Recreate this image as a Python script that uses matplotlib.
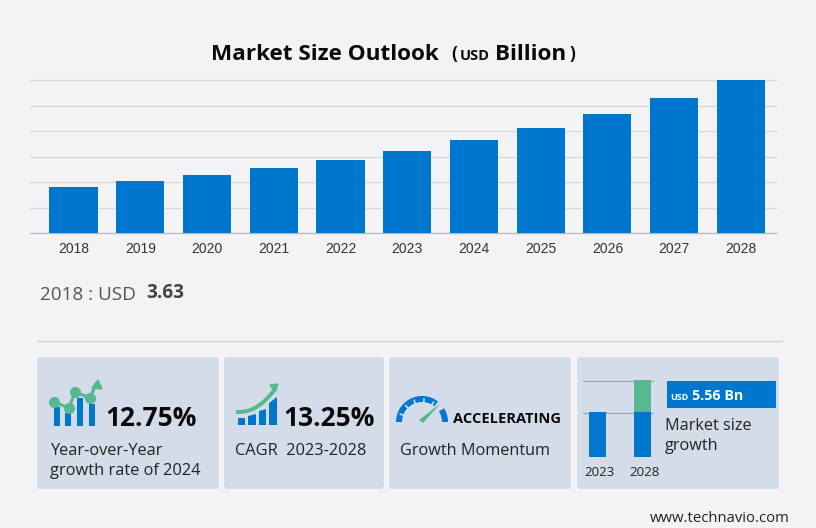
import numpy as np
import matplotlib
matplotlib.use("Agg")
import matplotlib.pyplot as plt
from matplotlib.patches import FancyBboxPatch, Rectangle, Polygon, Wedge

# Values
years = ['2018', '2019', '2020', '2021', '2022', '2023', '2024', '2025', '2026', '2027', '2028']
market_size = [3.63, 4.06, 4.53, 5.08, 5.70, 6.40, 7.26, 8.20, 9.29, 10.54, 11.95]
mini_years = ['2023', '2028']
mini_base = [44, 44]
mini_growth = [0, 32]

BG = '#f3f3f6'
CARD = '#d3dce8'
BLUE = '#0077cf'
GREEN = '#55b88f'
SANS = 'Open Sans'
W, H = 816, 528


def px_axes(x0, y0, x1, y1):
    # axes placed by pixel box, y counted from the top of the image
    return fig.add_axes([x0 / W, 1 - y1 / H, (x1 - x0) / W, (y1 - y0) / H])


fig = plt.figure(figsize=(8.16, 5.28), dpi=100, facecolor=BG)

# overlay in pixel coordinates for cards, icons and text
bg = fig.add_axes([0, 0, 1, 1], zorder=0)
bg.set_xlim(0, W)
bg.set_ylim(H, 0)
bg.axis('off')


def label(x, y, s, size=12, weight='normal', color='#222222', family=SANS, **kw):
    bg.text(x, y, s, fontsize=size, fontweight=weight, color=color, family=family,
            va='baseline', **kw)


# title
label(211, 59.5, 'Market Size Outlook', 16.2, 'bold', '#0a0a0a')
label(451, 59.5, '(', 12.5, 'bold', '#0a0a0a')
label(460, 59.5, 'USD', 10.5, 'bold', '#0a0a0a')
label(495, 59.5, 'Billion', 16.2, 'bold', '#0a0a0a')
label(570, 59.5, ')', 12.5, 'bold', '#0a0a0a')

# main bar chart
ax = px_axes(30, 80, 776, 233.3)
ax.set_facecolor('none')
x = np.arange(len(years))
ax.bar(x, market_size, width=0.72, color=BLUE, zorder=3)
ax.set_xlim(-0.652, 10.525)
ax.set_ylim(0, max(market_size))
ax.set_yticks(np.linspace(0, max(market_size), 7))
ax.set_yticklabels([])
ax.set_xticks(x)
ax.set_xticklabels(years, fontsize=10, color='#333333', family='Liberation Sans')
ax.tick_params(axis='both', length=0)
ax.tick_params(axis='x', pad=6)
ax.grid(axis='y', color='#d9dade', lw=1, zorder=0)
for g in ax.get_ygridlines():
    g.set_clip_on(False)
for side in ['top', 'right', 'left']:
    ax.spines[side].set_visible(False)
ax.spines['bottom'].set_color('#b5b7bd')

# first year readout and divider
label(40, 299.5, '2018 : USD', 13.6, color='#555555')
label(146, 298.5, '3.63', 13.6, 'bold', '#444444')
bg.plot([38, 782], [341, 341], color='#cfd0d4', lw=1)

# cards
for x0, x1 in [(37, 219), (224, 384), (389, 571), (577, 779)]:
    bg.add_patch(FancyBboxPatch((x0 + 4, 361), x1 - x0 - 8, 124,
                                boxstyle='round,pad=4,rounding_size=4',
                                fc=CARD, ec='none'))

# card 1: bars with a rising line
for x0, top in [(54, 407), (65, 413), (77, 398), (89, 404)]:
    bg.add_patch(Rectangle((x0, top), 6, 426 - top, fc=BLUE, ec='none'))
line_x = [54, 69, 75, 90, 96]
line_y = [402, 408, 392, 398, 384]
bg.plot(line_x, line_y, color=GREEN, lw=2.2)
bg.plot(line_x[:4], line_y[:4], 'o', color=GREEN, ms=7)
bg.add_patch(Polygon([[98, 380], [92, 388], [102, 389]], fc=GREEN, ec=GREEN))
label(105, 426, '12.75%', 19, 'bold', '#0a0a0a')
label(50, 455, 'Year-over-Year', 11.8)
label(50, 475, 'growth rate of 2024', 11.8)

# card 2: stepped bars with a curved arrow
for x0, x1, t0, t1 in [(238, 245, 418, 418), (248, 256, 416, 414),
                       (259, 266, 411, 409), (269, 277, 403, 397)]:
    bg.add_patch(Polygon([[x0, 425], [x0, t0], [x1, t1], [x1, 425]], fc=BLUE, ec='none'))
t = np.linspace(0, 1, 30)
bg.plot(238 + 37 * t, 412 - 23 * t ** 2.2, color=GREEN, lw=2.8)
bg.add_patch(Polygon([[278, 384], [270, 385], [275, 392]], fc=GREEN, ec=GREEN))
label(283, 426, '13.25%', 19, 'bold', '#0a0a0a')
label(235, 455, 'CAGR  2023-2028', 11.8)

# card 3: gauge
bg.add_patch(Wedge((422, 422), 26, 180, 308, width=6, fc=BLUE, ec='none'))
bg.add_patch(Wedge((422, 422), 26, 328, 360, width=6, fc=BLUE, ec='none'))
for a in np.radians([200, 225, 250, 275, 300]):
    bg.plot([422 + 19.5 * np.cos(a), 422 + 23 * np.cos(a)],
            [422 + 19.5 * np.sin(a), 422 + 23 * np.sin(a)], color=CARD, lw=1.2)
bg.add_patch(Polygon([[419, 420], [423, 423], [441, 403]], fc=GREEN, ec='none'))
label(453, 423, 'ACCELERATING', 10.5, 'bold', '#0a0a0a')
label(400, 455, 'Growth Momentum', 11.7)

# card 4: small stacked bars
mini = px_axes(583, 380, 653, 456.7)
mini.set_facecolor('none')
xm = np.arange(len(mini_years))
mini.bar(xm, mini_base, width=0.374, color=BLUE, zorder=3)
mini.bar(xm, mini_growth, bottom=mini_base, width=0.374, color=GREEN, zorder=3)
mini.set_xlim(-0.319, 1.22)
mini.set_ylim(0, mini_base[1] + mini_growth[1])
mini.axis('off')
bg.plot([583, 653], [380.5, 380.5], color='#98a3b3', lw=0.8)
bg.plot([583, 653], [412.5, 412.5], color='#98a3b3', lw=0.8)
bg.text(599, 476, mini_years[0], fontsize=9.5, color='#222222', family=SANS, ha='center')
bg.text(644, 476, mini_years[1], fontsize=9.5, color='#222222', family=SANS, ha='center')
bg.add_patch(Rectangle((667, 381), 109, 27, fc=BLUE, ec='none'))
label(670, 400, 'USD', 6.5, 'bold', 'white')
label(692, 400, '5.56 Bn', 10.3, 'bold', 'white')
label(665, 430, 'Market size', 11.7)
label(665, 450, 'growth', 11.7)

# footer
label(650, 522, 'www.technavio.com', 10.7)

fig.savefig('out.png', dpi=100, facecolor=BG)
